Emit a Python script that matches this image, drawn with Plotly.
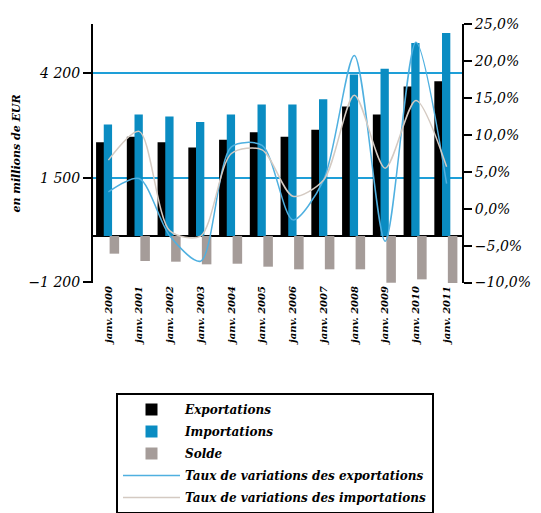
import plotly.graph_objects as go

categories = ["janv. 2000", "janv. 2001", "janv. 2002", "janv. 2003", "janv. 2004", "janv. 2005",
              "janv. 2006", "janv. 2007", "janv. 2008", "janv. 2009", "janv. 2010", "janv. 2011"]
exportations = [2415, 2562, 2415, 2285, 2484, 2673, 2562, 2743, 3339, 3131, 3856, 3993]
importations = [2873, 3131, 3080, 2942, 3131, 3390, 3390, 3528, 4167, 4314, 4977, 5236]
solde = [-458, -647, -665, -733, -717, -794, -862, -862, -862, -1208, -1121, -1250]
taux_export = [0.023, 0.041, -0.037, -0.071, 0.084, 0.086, -0.015, 0.039, 0.208, -0.044, 0.226, 0.034]
taux_import = [0.066, 0.105, -0.030, -0.037, 0.075, 0.080, 0.017, 0.039, 0.154, 0.055, 0.147, 0.057]
left_ticks = [-1200, 1500, 4200]
right_ticks = [-0.10, -0.05, 0.0, 0.05, 0.10, 0.15, 0.20, 0.25]

FONT = "DejaVu Serif"
L, R, T, B = 93, 79, 24, 230
PW = 541 - L - R
PH = 513 - T - B

fig = go.Figure()
fig.add_trace(go.Bar(x=categories, y=exportations, name="Exportations", legendgroup="g1",
                     marker=dict(color="#000000", line=dict(width=0)),
                     offset=-0.4, width=0.28))
fig.add_trace(go.Bar(x=categories, y=importations, name="Importations", legendgroup="g2",
                     marker=dict(color="#0a8cc2", line=dict(width=0)),
                     offset=-0.15, width=0.27))
fig.add_trace(go.Bar(x=categories, y=solde, name="Solde", legendgroup="g3",
                     marker=dict(color="#a59c99", line=dict(width=0)),
                     offset=0.04, width=0.31))
fig.add_trace(go.Scatter(x=categories, y=taux_export, name="Taux de variations des exportations",
                         legendgroup="g4", yaxis="y2", mode="lines",
                         line=dict(color="#4fb0e0", width=1.5, shape="spline", smoothing=0.8)))
fig.add_trace(go.Scatter(x=categories, y=taux_import, name="Taux de variations des importations",
                         legendgroup="g5", yaxis="y2", mode="lines",
                         line=dict(color="#d4cac2", width=1.5, shape="spline", smoothing=0.8)))

fig.update_layout(
    width=541, height=513,
    margin=dict(l=L, r=R, t=T, b=B, autoexpand=False),
    paper_bgcolor="white", plot_bgcolor="white",
    separators=", ",
    barmode="overlay",
    showlegend=True,
    font=dict(family=FONT, color="black", style="italic"),
    xaxis=dict(
        type="category", showgrid=False, showline=False, ticks="",
        tickangle=-90, tickfont=dict(family=FONT, size=10, style="italic", weight="bold", color="black"),
        range=[-0.5, 11.5], automargin=False, tickmode="array", tickvals=categories,
    ),
    yaxis=dict(
        range=[-1215, 5470], tickvals=left_ticks, tickformat=",d",
        showgrid=True, gridcolor="#1e9fd8", gridwidth=2,
        zeroline=True, zerolinecolor="black", zerolinewidth=2,
        showline=True, linecolor="black", linewidth=2,
        ticks="outside", ticklen=8, tickwidth=2, tickcolor="black",
        tickfont=dict(family=FONT, size=14, style="italic", color="black"),
        title=dict(text="en millions de EUR", standoff=6,
                   font=dict(family=FONT, size=11, style="italic", weight="bold", color="black")),
        automargin=False,
    ),
    yaxis2=dict(
        overlaying="y", side="right", range=[-0.1006, 0.2506],
        tickvals=right_ticks, tickformat=".1%",
        showgrid=False, zeroline=False,
        showline=True, linecolor="black", linewidth=2,
        ticks="outside", ticklen=8, tickwidth=2, tickcolor="black",
        tickfont=dict(family=FONT, size=14, style="italic", color="black"),
        automargin=False,
    ),
    legend=dict(
        x=(116 - L) / PW, y=(513 - 393 - B) / PH, xanchor="left", yanchor="top",
        bordercolor="black", borderwidth=2, bgcolor="white",
        font=dict(family=FONT, size=12, style="italic", weight="bold", color="black"),
        itemwidth=57, tracegroupgap=3, groupclick="toggleitem",
    ),
)

fig.write_html("out.html")
